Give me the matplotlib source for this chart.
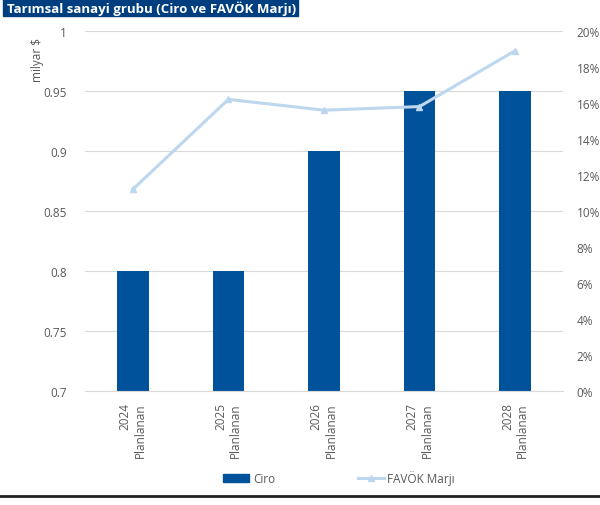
import matplotlib.pyplot as plt
from matplotlib.patches import Rectangle
from matplotlib.lines import Line2D
from matplotlib.ticker import FuncFormatter

plt.rcParams['font.family'] = ['Open Sans', 'DejaVu Sans']

yillar = ['2024', '2025', '2026', '2027', '2028']
etiketler = [y + '\nPlanlanan' for y in yillar]
ciro = [0.8, 0.8, 0.9, 0.95, 0.95]
favok_marji = [11.2, 16.2, 15.6, 15.8, 18.9]

koyu_mavi = '#00529b'
acik_mavi = '#bdd7ee'
gri = '#595959'

fig = plt.figure(figsize=(6, 5.06), dpi=100)
ax = fig.add_axes([0.1417, 0.2253, 0.7963, 0.7115])
x = range(len(yillar))
ax.bar(x, ciro, width=0.33, color=koyu_mavi, zorder=2)
ax.set_ylim(0.7, 1.0)
ax.set_xlim(-0.5, len(yillar) - 0.5)
ax.set_yticks([0.7, 0.75, 0.8, 0.85, 0.9, 0.95, 1.0])
ax.yaxis.set_major_formatter(FuncFormatter(lambda v, p: f'{v:g}'))
ax.grid(axis='y', color='#d9d9d9', linewidth=0.8, zorder=0)
for s in ['top', 'left', 'right']:
    ax.spines[s].set_visible(False)
ax.spines['bottom'].set_color('#d9d9d9')
ax.tick_params(axis='y', length=0, labelsize=8.5, labelcolor=gri, pad=13)
ax.tick_params(axis='x', length=0, labelsize=8.5, labelcolor=gri, pad=8)
ax.set_xticks(list(x))
ax.set_xticklabels(etiketler, rotation=90, ha='center', va='top',
                   multialignment='right')

ax2 = ax.twinx()
ax2.plot(x, favok_marji, color=acik_mavi, linewidth=2.2, marker='^',
         markersize=5, zorder=3)
ax2.set_ylim(0, 20)
ax2.set_yticks(range(0, 21, 2))
ax2.yaxis.set_major_formatter(FuncFormatter(lambda v, p: f'{v:.0f}%'))
ax2.tick_params(axis='y', length=0, labelsize=8.5, labelcolor=gri, pad=10)
for s in ['top', 'left', 'right', 'bottom']:
    ax2.spines[s].set_visible(False)

fig.text(38 / 600, 1 - 38 / 506, 'milyar $', rotation=90, ha='center',
         va='top', fontsize=8.5, color=gri)

# başlık şeridi
fig.patches.append(Rectangle((3 / 600, 1 - 17 / 506), 295 / 600, 17 / 506,
                             transform=fig.transFigure, color='#003f7f',
                             zorder=0))
fig.text(7 / 600, 1 - 8.5 / 506, 'Tarımsal sanayi grubu (Ciro ve FAVÖK Marjı)',
         ha='left', va='center', fontsize=9.5, fontweight='bold',
         color='white')

# alt çizgi
fig.add_artist(Line2D([0, 1], [1 - 497 / 506] * 2, transform=fig.transFigure,
                      color='#222222', linewidth=2))

handles = [Rectangle((0, 0), 1, 1, color=koyu_mavi),
           Line2D([0], [0], color=acik_mavi, linewidth=2.2, marker='^',
                  markersize=5)]
fig.legend(handles, ['Ciro', 'FAVÖK Marjı'], loc='center',
           bbox_to_anchor=(0.565, 1 - 479 / 506), ncol=2, frameon=False,
           fontsize=8.5, labelcolor=gri, columnspacing=7, handlelength=2.2,
           handletextpad=0.3)

fig.savefig('out.png', dpi=100)
